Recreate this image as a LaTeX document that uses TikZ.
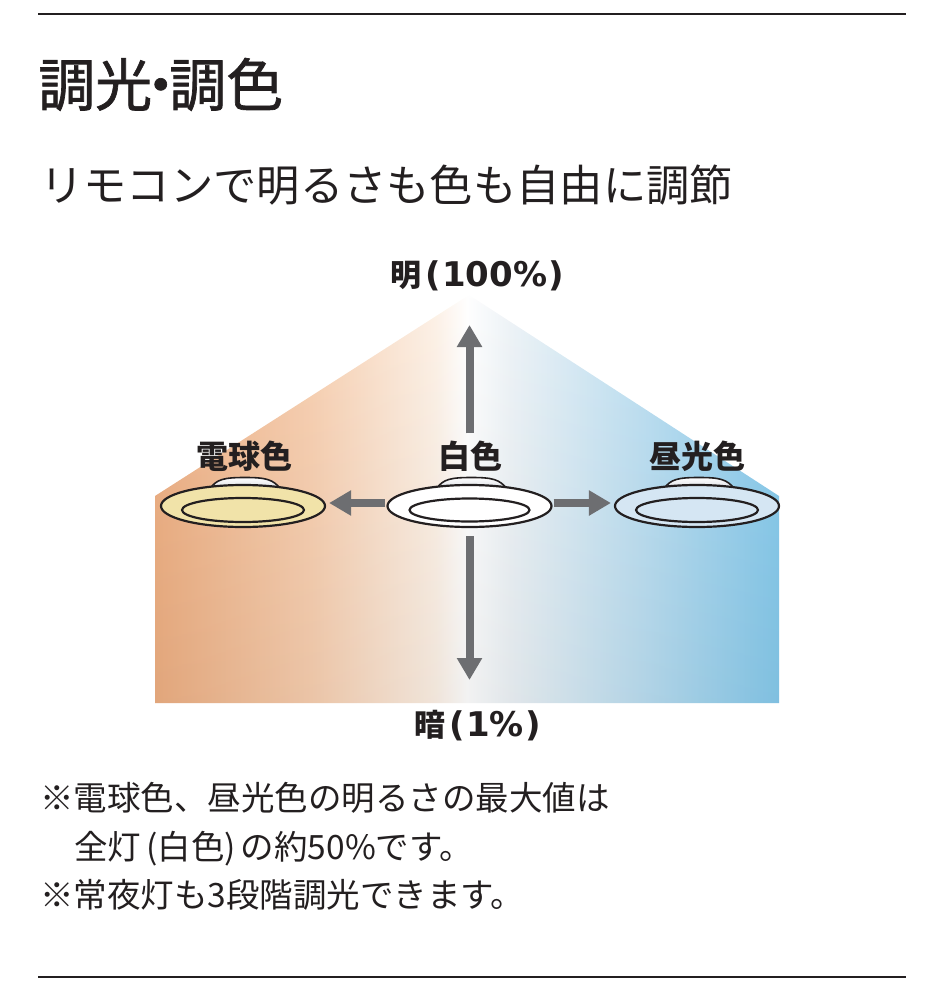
\documentclass[tikz,border=0pt]{standalone}
\usepackage{fontspec}
\newfontfamily\cjk{Noto Sans CJK JP}
\newfontfamily\cjkmed[FakeBold=1.2]{Noto Sans CJK JP}
\newfontfamily\numfont{DejaVu Sans}
\usetikzlibrary{positioning,shapes.geometric,arrows.meta}
\definecolor{ink}{HTML}{231F20}
\definecolor{warmside}{HTML}{EEAF82}
\definecolor{warmmid}{HTML}{F8CFB0}
\definecolor{warmpale}{HTML}{FDF1E6}
\definecolor{coolpale}{HTML}{EDF3F7}
\definecolor{coolmid}{HTML}{BCDFF2}
\definecolor{coolside}{HTML}{86CAEC}
\definecolor{bulbfill}{HTML}{F1E3A9}
\definecolor{dayfill}{HTML}{D5E6F3}
\definecolor{domegray}{HTML}{D4D8E0}
\definecolor{arrowgray}{HTML}{6D6E71}
\pgfdeclarehorizontalshading{colourfield}{100bp}{color(0bp)=(warmside); color(25bp)=(warmside);
  color(37.5bp)=(warmmid); color(47.5bp)=(warmpale); color(50bp)=(white); color(53.5bp)=(coolpale);
  color(64bp)=(coolmid); color(75bp)=(coolside); color(100bp)=(coolside)}

\begin{document}
\begin{tikzpicture}[x=1pt,y=-1pt,
    lamp/.style={ellipse,draw=ink,line width=2.2pt,minimum width=164pt,minimum height=42pt,inner sep=0pt},
    ring/.style={draw=ink,line width=2.2pt},
    lamplabel/.style={font=\cjk\bfseries\fontsize{32}{36}\selectfont,text=ink,inner sep=0pt,anchor=base},
    levellabel/.style={font=\cjk\bfseries\fontsize{31}{36}\selectfont,text=ink,inner sep=0pt,anchor=base west},
    note/.style={font=\cjk\fontsize{33.5}{40}\selectfont,text=ink,inner sep=0pt,anchor=base west},
    bigarrow/.style={arrowgray,line width=8pt,-{Triangle[length=22pt,width=24pt]}},
    rule/.style={ink,line width=2.5pt}]
  \useasboundingbox (0,0) rectangle (929,1000);

  % rules and headings
  \draw[rule] (38,14) -- (906,14);
  \draw[rule] (38,977) -- (906,977);
  \node[font=\cjkmed\fontsize{57}{60}\selectfont,text=ink,inner sep=0pt,anchor=base west] (title) at (38,106) {調光\kern-.35em・\kern-.35em調色};
  \node[font=\cjk\fontsize{43.3}{48}\selectfont,text=ink,inner sep=0pt,anchor=base west] (subtitle) at (40,202) {リモコンで明るさも色も自由に調節};

  % colour field
  \shade[shading=colourfield]
    (155,703) -- (155,496) -- (469,295) -- (779,496) -- (779,703) -- cycle;
  \shade[top color=white,bottom color=black,opacity=0.05]
    (155,703) -- (155,496) -- (469,295) -- (779,496) -- (779,703) -- cycle;

  % domes behind the lamps
  \foreach \cx in {243,469.5,697}
    \shade[top color=white,bottom color=domegray,draw=ink,line width=1.6pt]
      ({\cx-33},489) .. controls ({\cx-27},479) and ({\cx-18},477.5) .. ({\cx+2},477.5)
      .. controls ({\cx+22},477.5) and ({\cx+31},479) .. ({\cx+38},490) -- cycle;

  % lamps
  \node[lamp,fill=bulbfill] (bulb) at (243,506) {};
  \node[lamp,fill=white] (neutral) at (469.5,506) {};
  \node[lamp,fill=dayfill] (daylight) at (697,506) {};
  \draw[ring,fill=bulbfill] ([yshift=-4pt]bulb.center) ellipse [x radius=61pt,y radius=12pt];
  \draw[ring,fill=white] ([yshift=-4pt]neutral.center) ellipse [x radius=60pt,y radius=11.5pt];
  \draw[ring,fill=dayfill] ([yshift=-4pt]daylight.center) ellipse [x radius=61pt,y radius=12pt];

  % labels
  \node[lamplabel] (bulblabel) at (244,468) {電球色};
  \node[lamplabel] (neutrallabel) at (470,468) {白色};
  \node[lamplabel] (daylabel) at (697,468) {昼光色};
  \node[levellabel] (bright) at (390,286) {明\kern4pt{\numfont\bfseries\fontsize{34}{36}\selectfont(\kern1.5pt100\%\kern1.5pt)}};
  \node[levellabel] (dark) at (414,736) {暗\kern4pt{\numfont\bfseries\fontsize{34}{36}\selectfont(\kern1.5pt1\%\kern1.5pt)}};

  % arrows
  \coordinate (uptip) at (469.5,325);
  \coordinate (downtip) at (469.5,680);
  \draw[bigarrow] ([xshift=-0.5pt,yshift=7pt]neutrallabel.north) -- (uptip);
  \draw[bigarrow,shorten <=8pt] (neutral.south) -- (downtip);
  \path[bigarrow,shorten <=1pt,shorten >=3pt]
    ([yshift=3pt]neutral.west) edge ([yshift=3pt]bulb.east)
    ([yshift=3pt]neutral.east) edge ([yshift=3pt]daylight.west);

  % notes
  \node[note] (note1) at (40,810.5) {※電球色、昼光色の明るさの最大値は};
  \node[note] (note2) at (74,859.5) {全灯\kern.15em(白色)\kern.15emの約50\%です。};
  \node[note] (note3) at (40,907.5) {※常夜灯も3段階調光できます。};
\end{tikzpicture}
\end{document}
